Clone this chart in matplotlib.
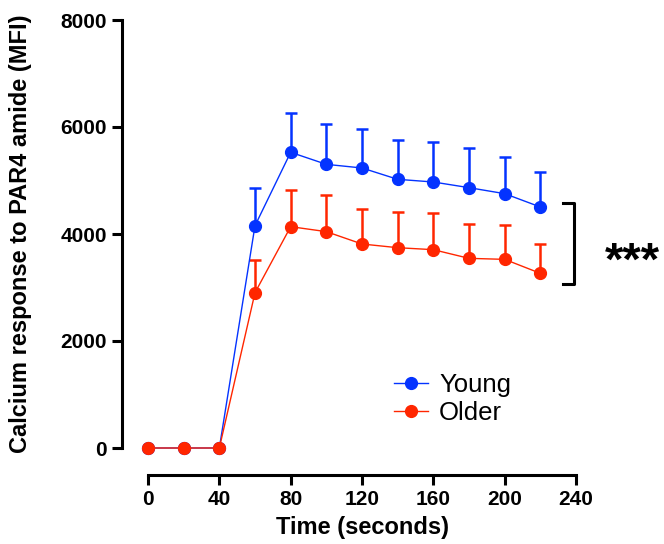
import matplotlib
matplotlib.use("Agg")
import matplotlib.pyplot as plt
import numpy as np

plt.rcParams['font.family'] = ['Liberation Sans', 'DejaVu Sans']

time_s = [0, 20, 40, 60, 80, 100, 120, 140, 160, 180, 200, 220]
young_mean = [0, 0, 0, 4155, 5527, 5302, 5234, 5022, 4972, 4866, 4754, 4505]
young_upper = [0, 0, 0, 4866, 6256, 6050, 5963, 5757, 5720, 5613, 5446, 5165]
older_mean = [0, 0, 0, 2903, 4137, 4044, 3813, 3744, 3707, 3545, 3526, 3265]
older_upper = [0, 0, 0, 3514, 4822, 4729, 4467, 4405, 4393, 4187, 4162, 3813]
x_ticks = [0, 40, 80, 120, 160, 200, 240]
y_ticks = [0, 2000, 4000, 6000, 8000]
blue = '#0433FF'
red = '#FF2600'

fig = plt.figure(figsize=(6.64, 5.44), dpi=100)
ax = fig.add_axes([148/664, (544-448)/544, (576-148)/664, (448-20)/544])

for mean, upper, col, lab in [(young_mean, young_upper, blue, 'Young'),
                              (older_mean, older_upper, red, 'Older')]:
    m = np.array(mean, float)
    u = np.array(upper, float)
    err = np.vstack([np.zeros_like(m), u - m])
    mask = (u - m) > 0
    ax.errorbar(np.array(time_s)[mask], m[mask], yerr=err[:, mask], fmt='none',
                ecolor=col, elinewidth=1.8, capsize=4, capthick=1.8, clip_on=False, zorder=2)
    ax.plot(time_s, m, '-o', color=col, lw=1.0, ms=8.5, label=lab, clip_on=False, zorder=3)

ax.set_xlim(0, 240)
ax.set_ylim(0, 8000)
ax.set_xticks(x_ticks)
ax.set_yticks(y_ticks)
for s in ['top', 'right']:
    ax.spines[s].set_visible(False)
ax.spines['left'].set_position(('outward', 18.7))
ax.spines['bottom'].set_position(('outward', 19.4))
for s in ['left', 'bottom']:
    ax.spines[s].set_linewidth(2.2)
ax.tick_params(width=2.2, length=7, labelsize=15, pad=4)
for t in ax.get_xticklabels() + ax.get_yticklabels():
    t.set_fontweight('bold')

ax.set_xlabel('Time (seconds)', fontsize=17, fontweight='bold', labelpad=5)
ax.set_ylabel('Calcium response to PAR4 amide (MFI)', fontsize=17, fontweight='bold', labelpad=20)

leg = ax.legend(loc='upper left', bbox_to_anchor=(0.545, 0.205), frameon=False, fontsize=18.5,
                handlelength=1.3, handletextpad=0.45, labelspacing=0.15, borderpad=0)

# significance bracket
bx = 574 / 664
fig.add_artist(plt.Line2D([bx - 0.016, bx, bx, bx - 0.016],
                          [1 - 203/544, 1 - 203/544, 1 - 284/544, 1 - 284/544],
                          color='black', lw=2.2, transform=fig.transFigure))
fig.text(632/664, 1 - 263/544, '***', fontsize=34, fontweight='bold', ha='center', va='center')

fig.savefig('out.png', dpi=100)
